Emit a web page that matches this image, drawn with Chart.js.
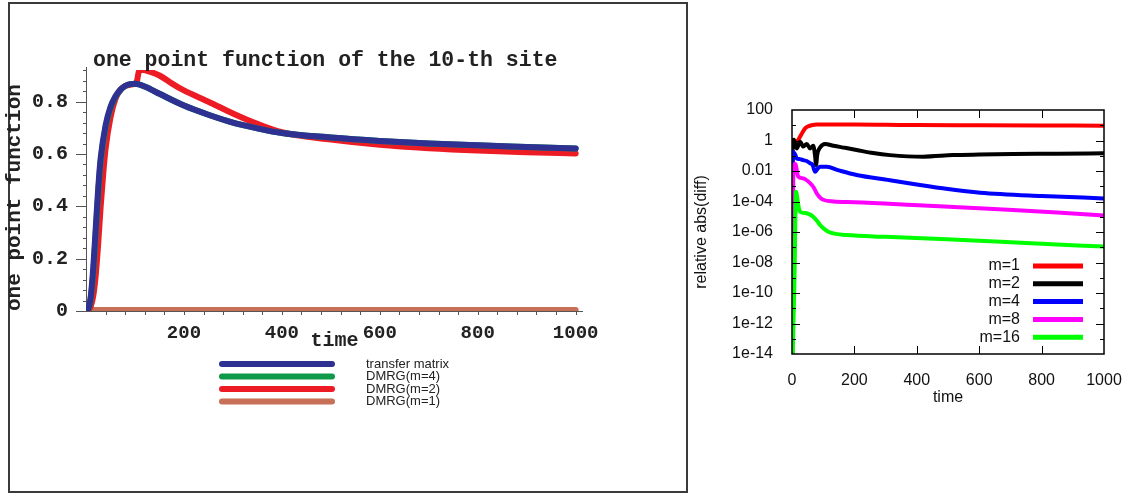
<!DOCTYPE html>
<html>
<head>
<meta charset="utf-8">
<script src="https://cdn.jsdelivr.net/npm/chart.js@4.4.1/dist/chart.umd.min.js"></script>
<style>
  body { margin: 0; background: #fff; }
  #wrap { position: relative; width: 1131px; height: 493px; }
  #frame { position: absolute; left: 8px; top: 2px; width: 676px; height: 487px; border: 2px solid #3a3a3a; }
  #left { position: absolute; left: 0; top: 0; }
  #right { position: absolute; left: 690px; top: 0; }
</style>
</head>
<body>
<div id="wrap">
  <div id="frame"></div>
  <canvas id="left" width="688" height="493"></canvas>
  <canvas id="right" width="441" height="493"></canvas>
</div>
<script>
// left panel: one point function of the 10-th site
const leftTitle = 'one point function of the 10-th site';
const timeTM = [0, 5, 10, 15, 20, 25, 30, 40, 50, 60, 70, 80, 90, 100, 120, 150, 200, 250, 300, 350, 400, 500, 600, 700, 800, 900, 1000];
const transferMatrix = [0, 0.01, 0.06, 0.17, 0.32, 0.47, 0.585, 0.71, 0.78, 0.82, 0.845, 0.86, 0.867, 0.868, 0.858, 0.83, 0.785, 0.75, 0.72, 0.698, 0.68, 0.663, 0.65, 0.64, 0.633, 0.627, 0.621];
const dmrgM4 = [0, 0.008, 0.05, 0.15, 0.3, 0.45, 0.57, 0.70, 0.775, 0.818, 0.844, 0.86, 0.867, 0.868, 0.858, 0.83, 0.785, 0.75, 0.72, 0.698, 0.68, 0.663, 0.65, 0.64, 0.633, 0.627, 0.621];
const timeM2 = [0, 5, 10, 15, 20, 25, 30, 35, 40, 50, 60, 70, 80, 90, 100, 104, 108, 115, 130, 150, 175, 200, 250, 300, 350, 400, 500, 600, 700, 800, 900, 1000];
const dmrgM2 = [0, 0.004, 0.02, 0.06, 0.14, 0.26, 0.40, 0.52, 0.62, 0.74, 0.81, 0.845, 0.86, 0.865, 0.868, 0.878, 0.915, 0.922, 0.915, 0.90, 0.87, 0.843, 0.80, 0.755, 0.715, 0.683, 0.655, 0.635, 0.622, 0.613, 0.607, 0.602];
const timeM1 = [0, 200, 400, 600, 800, 1000];
const dmrgM1 = [0.004, 0.004, 0.004, 0.004, 0.004, 0.004];
const leftXTicks = [200, 400, 600, 800, 1000];
const leftXLabels = ['200', '400', '600', '800', '1000'];
const leftYTicks = [0, 0.2, 0.4, 0.6, 0.8];
const leftYLabels = ['0', '0.2', '0.4', '0.6', '0.8'];

// right panel: relative abs(diff), log scale
const timeD1 = [0, 5, 13, 20, 26, 34, 42, 52, 63, 80, 120, 200, 300, 400, 600, 800, 1000];
const diffM1 = [1.0, 0.92, 0.83, 1.1, 1.8, 3.5, 6.3, 8.5, 10, 11, 11, 11, 10.7, 10.3, 10, 9.7, 9.4];
const timeD2 = [0, 2, 6, 15, 26, 36, 47, 58, 68, 74, 77, 81, 90, 106, 133, 170, 207, 260, 314, 420, 516, 600, 708, 850, 1000];
const diffM2 = [1e-16, 0.9, 1.1, 0.3, 0.83, 0.4, 0.6, 0.3, 0.45, 0.1, 0.025, 0.12, 0.35, 0.6, 0.45, 0.33, 0.24, 0.15, 0.11, 0.087, 0.11, 0.12, 0.13, 0.135, 0.145];
const timeD4 = [0, 3, 10, 15, 25, 36, 47, 58, 66, 74, 82, 90, 111, 150, 207, 314, 410, 500, 603, 800, 1000];
const diffM4 = [1e-16, 0.19, 0.12, 0.068, 0.06, 0.052, 0.045, 0.032, 0.025, 0.009, 0.014, 0.019, 0.019, 0.011, 0.0055, 0.0025, 0.0012, 6.5e-4, 3.8e-4, 2.3e-4, 1.6e-4];
const timeD8 = [0, 4, 10, 20, 36, 58, 70, 79, 90, 100, 133, 200, 389, 550, 708, 850, 1000];
const diffM8 = [1e-16, 0.004, 0.03, 0.0043, 0.0033, 0.0016, 8e-4, 3.5e-4, 1.8e-4, 1.3e-4, 1e-4, 9e-5, 5.9e-5, 4e-5, 2.8e-5, 1.9e-5, 1.2e-5];
const timeD16 = [0, 8, 13, 20, 26, 47, 68, 80, 90, 103, 116, 140, 175, 300, 496, 750, 1000];
const diffM16 = [1e-16, 1e-9, 4.4e-4, 6e-5, 2.1e-5, 1.7e-5, 1e-5, 5.5e-6, 2.9e-6, 1.6e-6, 1.05e-6, 7.5e-7, 6.3e-7, 4.8e-7, 3.3e-7, 1.9e-7, 1.1e-7];
const rightXTicks = [0, 200, 400, 600, 800, 1000];
const rightXLabels = ['0', '200', '400', '600', '800', '1000'];
const logTicks = [1e2, 1, 1e-2, 1e-4, 1e-6, 1e-8, 1e-10, 1e-12, 1e-14];
const logLabels = ['100', '1', '0.01', '1e-04', '1e-06', '1e-08', '1e-10', '1e-12', '1e-14'];

const pts = (xs, ys) => xs.map((x, i) => ({ x: x, y: ys[i] }));
const mono = (size) => ({ family: '"Liberation Mono", "Courier New", monospace', size: size, weight: 'bold' });
const sans = (size) => ({ family: '"Liberation Sans", Arial, sans-serif', size: size });

// axes, minor ticks, title and legend of the left panel
const leftDecor = {
  id: 'leftDecor',
  beforeDatasetsDraw(chart) {
    const { ctx, chartArea: a, scales: { x, y } } = chart;
    ctx.save();
    ctx.strokeStyle = '#555';
    ctx.lineWidth = 1;
    ctx.beginPath();
    ctx.moveTo(a.left + 0.5, a.top - 3);
    ctx.lineTo(a.left + 0.5, a.bottom);
    ctx.moveTo(a.left - 10, a.bottom + 0.5);
    ctx.lineTo(a.right, a.bottom + 0.5);
    for (let k = 0; k <= 23; k++) {
      const py = Math.round(y.getPixelForValue(k * 0.04)) + 0.5;
      ctx.moveTo(a.left - (k % 5 === 0 ? 10 : 3), py);
      ctx.lineTo(a.left, py);
    }
    for (let k = 1; k <= 25; k++) {
      const px = Math.round(x.getPixelForValue(k * 40)) + 0.5;
      ctx.moveTo(px, a.bottom);
      ctx.lineTo(px, a.bottom + 4);
    }
    ctx.stroke();
    ctx.restore();
  },
  afterDraw(chart) {
    const ctx = chart.ctx;
    ctx.save();
    ctx.fillStyle = '#222';
    ctx.font = 'bold 21.5px "Liberation Mono", "Courier New", monospace';
    ctx.textBaseline = 'middle';
    ctx.fillText(leftTitle, 93, 61);
    ctx.font = '13px "Liberation Sans", Arial, sans-serif';
    chart.data.datasets.forEach((ds, i) => {
      const ly = 364 + i * 12.5;
      ctx.strokeStyle = ds.borderColor;
      ctx.lineWidth = 6;
      ctx.lineCap = 'round';
      ctx.beginPath();
      ctx.moveTo(222, ly);
      ctx.lineTo(332, ly);
      ctx.stroke();
      ctx.fillText(ds.label, 366, ly);
    });
    ctx.restore();
  }
};

new Chart(document.getElementById('left'), {
  type: 'line',
  data: {
    datasets: [
      { label: 'transfer matrix', data: pts(timeTM, transferMatrix), borderColor: '#2e3192' },
      { label: 'DMRG(m=4)', data: pts(timeTM, dmrgM4), borderColor: '#0f9a4a' },
      { label: 'DMRG(m=2)', data: pts(timeM2, dmrgM2), borderColor: '#ed1c24' },
      { label: 'DMRG(m=1)', data: pts(timeM1, dmrgM1), borderColor: '#c86f58' }
    ]
  },
  options: {
    responsive: false,
    animation: false,
    layout: { padding: { top: 70, right: 105, left: 0, bottom: 0 } },
    elements: {
      point: { radius: 0 },
      line: { borderWidth: 6, cubicInterpolationMode: 'monotone', borderCapStyle: 'round', borderJoinStyle: 'round' }
    },
    plugins: { legend: { display: false }, tooltip: { enabled: false } },
    scales: {
      x: {
        type: 'linear', min: 0, max: 1015,
        grid: { display: false }, border: { display: false },
        afterBuildTicks: s => { s.ticks = leftXTicks.map(v => ({ value: v })); },
        afterFit: s => { s.height = 182; },
        ticks: { padding: 3, color: '#222', font: mono(19), maxRotation: 0, autoSkip: false,
          callback: v => leftXLabels[leftXTicks.indexOf(v)] },
        title: { display: true, text: 'time', color: '#222', font: mono(20), padding: { top: 0, bottom: 140 } }
      },
      y: {
        type: 'linear', min: 0, max: 0.921,
        grid: { display: false }, border: { display: false },
        afterBuildTicks: s => { s.ticks = leftYTicks.map(v => ({ value: v })); },
        afterFit: s => { s.width = 86; },
        ticks: { padding: 10, color: '#222', font: mono(20), autoSkip: false,
          callback: v => leftYLabels[leftYTicks.indexOf(v)] },
        title: { display: true, text: 'one point function', align: 'start', color: '#222', font: mono(21), padding: { top: 2, bottom: 0 } }
      }
    }
  },
  plugins: [leftDecor]
});

// frame, inward ticks and legend of the right panel
const rightDecor = {
  id: 'rightDecor',
  afterDatasetsDraw(chart) {
    const { ctx, chartArea: a, scales: { x, y } } = chart;
    ctx.save();
    ctx.strokeStyle = '#000';
    ctx.lineWidth = 1.5;
    ctx.strokeRect(a.left, a.top, a.right - a.left, a.bottom - a.top);
    ctx.lineWidth = 1;
    ctx.beginPath();
    rightXTicks.slice(1, -1).forEach(v => {
      const px = Math.round(x.getPixelForValue(v)) + 0.5;
      ctx.moveTo(px, a.bottom); ctx.lineTo(px, a.bottom - 8);
      ctx.moveTo(px, a.top); ctx.lineTo(px, a.top + 8);
    });
    for (let e = -13; e <= 1; e++) {
      const py = Math.round(y.getPixelForValue(Math.pow(10, e))) + 0.5;
      const len = e % 2 === 0 ? 8 : 4;
      ctx.moveTo(a.left, py); ctx.lineTo(a.left + len, py);
      ctx.moveTo(a.right, py); ctx.lineTo(a.right - len, py);
    }
    ctx.stroke();
    ctx.restore();
  },
  afterDraw(chart) {
    const ctx = chart.ctx;
    ctx.save();
    ctx.fillStyle = '#111';
    ctx.font = '16px "Liberation Sans", Arial, sans-serif';
    ctx.textBaseline = 'middle';
    ctx.textAlign = 'right';
    chart.data.datasets.forEach((ds, i) => {
      const ly = 266 + i * 17.8;
      ctx.fillText(ds.label, 330, ly);
      ctx.strokeStyle = ds.borderColor;
      ctx.lineWidth = 5;
      ctx.beginPath();
      ctx.moveTo(343, ly);
      ctx.lineTo(393, ly);
      ctx.stroke();
    });
    ctx.restore();
  }
};

new Chart(document.getElementById('right'), {
  type: 'line',
  data: {
    datasets: [
      { label: 'm=1', data: pts(timeD1, diffM1), borderColor: '#ff0000', order: 5 },
      { label: 'm=2', data: pts(timeD2, diffM2), borderColor: '#000000', order: 4 },
      { label: 'm=4', data: pts(timeD4, diffM4), borderColor: '#0000ff', order: 3 },
      { label: 'm=8', data: pts(timeD8, diffM8), borderColor: '#ff00ff', order: 2 },
      { label: 'm=16', data: pts(timeD16, diffM16), borderColor: '#00ff00', order: 1 }
    ]
  },
  options: {
    responsive: false,
    animation: false,
    layout: { padding: { top: 110, right: 27, left: 0, bottom: 0 } },
    elements: {
      point: { radius: 0 },
      line: { borderWidth: 4, cubicInterpolationMode: 'monotone', borderJoinStyle: 'round' }
    },
    plugins: { legend: { display: false }, tooltip: { enabled: false } },
    scales: {
      x: {
        type: 'linear', min: 0, max: 1000,
        grid: { display: false }, border: { display: false },
        afterBuildTicks: s => { s.ticks = rightXTicks.map(v => ({ value: v })); },
        afterFit: s => { s.height = 139; },
        ticks: { padding: 9, color: '#111', font: sans(16), maxRotation: 0, autoSkip: false,
          callback: v => rightXLabels[rightXTicks.indexOf(v)] },
        title: { display: true, text: 'time', color: '#111', font: sans(16), padding: { top: 0, bottom: 86 } }
      },
      y: {
        type: 'logarithmic', min: 1e-14, max: 100,
        grid: { display: false }, border: { display: false },
        afterBuildTicks: s => { s.ticks = logTicks.map(v => ({ value: v })); },
        afterFit: s => { s.width = 102; },
        ticks: { padding: 11, color: '#111', font: sans(16), autoSkip: false,
          callback: v => logLabels[logTicks.indexOf(v)] },
        title: { display: true, text: 'relative abs(diff)', color: '#111', font: sans(16), padding: { top: 2, bottom: 0 } }
      }
    }
  },
  plugins: [rightDecor]
});
</script>
</body>
</html>
